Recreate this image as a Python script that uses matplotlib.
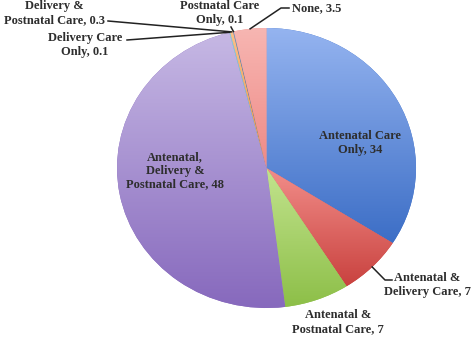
"""
Pie chart: share of women by type of maternal care received.
Saved to out.png.
"""

import numpy as np
import matplotlib
matplotlib.use("Agg")  # no display
import matplotlib.pyplot as plt
from matplotlib.colors import LinearSegmentedColormap
from matplotlib.lines import Line2D

# Data
labels = [
    "Antenatal Care\nOnly",
    "Antenatal &\nDelivery Care",
    "Antenatal &\nPostnatal Care",
    "Antenatal,\nDelivery &\nPostnatal Care",
    "Delivery Care\nOnly",
    "Delivery &\nPostnatal Care",
    "Postnatal Care\nOnly",
    "None",
]
values = [34, 7, 7, 48, 0.1, 0.3, 0.1, 3.5]

# Style: (light top, dark bottom) per slice, Excel-like gradient
shades = [
    ("#95b4f0", "#3c6ec6"),
    ("#f28e8a", "#c9423f"),
    ("#c2e38e", "#8dbf48"),
    ("#c6b8e4", "#8769bd"),
    ("#8fd0e0", "#4aaac4"),
    ("#fbc08a", "#f08f3c"),
    ("#8aa0c8", "#2c4d75"),
    ("#f7b6b2", "#ef8a86"),
]
TEXT = "#2e2e2e"
FONT = "Liberation Serif"
W, H = 472, 337

fig = plt.figure(figsize=(W / 100, H / 100), dpi=100)
fig.patch.set_facecolor("white")
ax = fig.add_axes([117 / W, 29 / H, 299 / W, 280 / H])

wedges, _ = ax.pie(values, startangle=90, counterclock=False,
                   colors=[c[1] for c in shades], radius=1,
                   wedgeprops=dict(linewidth=0))

# vertical gradient inside each wedge
for w, (light, dark) in zip(wedges, shades):
    ext = w.get_path().get_extents()
    cmap = LinearSegmentedColormap.from_list("g", [dark, light])
    grad = np.linspace(0, 1, 128).reshape(-1, 1)
    im = ax.imshow(grad, cmap=cmap, origin="lower", aspect="auto",
                   extent=(ext.x0, ext.x1, ext.y0, ext.y1), zorder=w.get_zorder())
    im.set_clip_path(w)

ax.set_aspect("auto")
ax.set_xlim(-1, 1)
ax.set_ylim(-1, 1)
ax.axis("off")


def fxy(px, py):
    """Pixel position (from top-left) to figure fraction."""
    return px / W, 1 - py / H


def anchor(i):
    """Point on the pie rim at the middle of slice i, in figure fraction."""
    w = wedges[i]
    ang = np.deg2rad((w.theta1 + w.theta2) / 2)
    disp = ax.transData.transform((np.cos(ang), np.sin(ang)))
    return fig.transFigure.inverted().transform(disp)


def leader(i, *pts):
    xs, ys = zip(*([tuple(anchor(i))] + [fxy(*p) for p in pts]))
    fig.add_artist(Line2D(xs, ys, transform=fig.transFigure, color="#222222", lw=1.1))


def label(i, px, py, ha="center"):
    txt = f"{labels[i]}, {values[i]:g}"
    x, y = fxy(px, py)
    fig.text(x, y, txt, ha=ha, va="center", ma="center", fontsize=9.0,
             fontweight="bold", family=FONT, color=TEXT, linespacing=1.15)


# inside labels
label(0, 360, 143)
label(3, 175, 171)

# outside labels
label(1, 427, 285)
leader(1, (385, 280), (392, 280))
label(2, 338, 322)
label(7, 292, 8, ha="left")
leader(7, (281, 8), (289, 8))
label(6, 220, 13)
leader(6, (231, 27))
label(5, 54, 13)
leader(5, (108, 21))
label(4, 85, 45)
leader(4, (127, 40))

fig.savefig("out.png", dpi=100, facecolor=fig.get_facecolor())
plt.close(fig)
